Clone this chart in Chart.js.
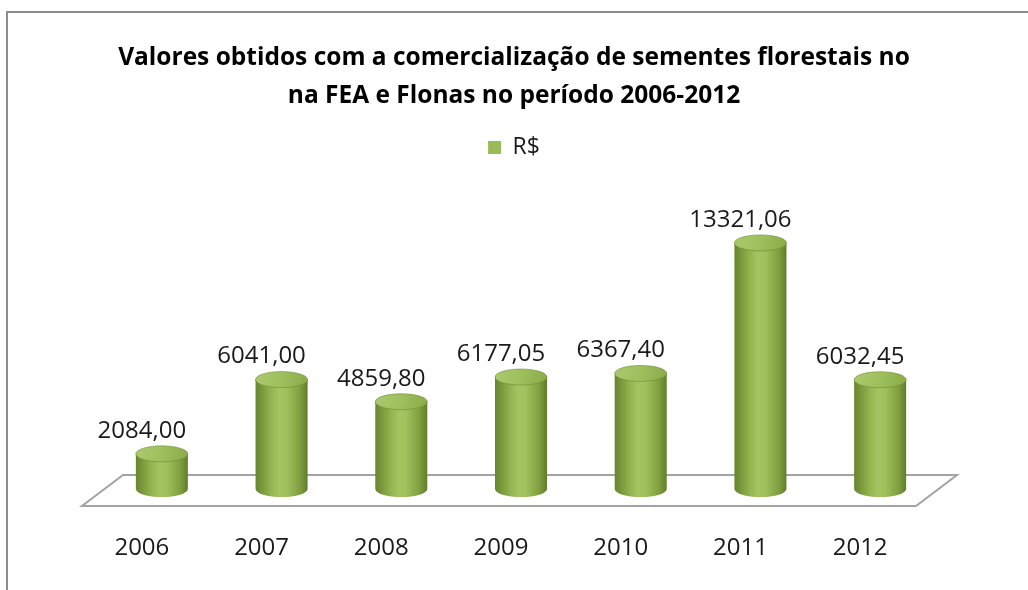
<!DOCTYPE html>
<html>
<head>
<meta charset="utf-8">
<script src="https://cdn.jsdelivr.net/npm/chart.js@4"></script>
<style>
  html, body { margin: 0; padding: 0; background: #ffffff; overflow: hidden; }
  #wrap { position: relative; width: 1028px; height: 590px; }
  #frame { position: absolute; left: 6px; top: 11px; width: 1100px; height: 700px;
           border-top: 2px solid #8c8c8c; border-left: 2px solid #8c8c8c; }
  #c { position: absolute; left: 0; top: 0; }
</style>
</head>
<body>
<div id="wrap">
  <div id="frame"></div>
  <canvas id="c" width="1028" height="590"></canvas>
</div>
<script>
const titleLines = ['Valores obtidos com a comercialização de sementes florestais no',
                    'na FEA e Flonas no período 2006-2012'];
const categories = ['2006', '2007', '2008', '2009', '2010', '2011', '2012'];
const seriesName = 'R$';
const values = [2084.00, 6041.00, 4859.80, 6177.05, 6367.40, 13321.06, 6032.45];
const yMax = 17950;

const FONT = "'Open Sans', 'DejaVu Sans', sans-serif";

function fmt(v) { return v.toFixed(2).replace('.', ','); }

const cylinderPlugin = {
  id: 'cylinders',
  beforeDatasetsDraw(chart) {
    const ctx = chart.ctx;
    const area = chart.chartArea;
    const depthX = 41, depthY = 31;   // floor depth (3D)
    const midX = 20, midY = 13;       // series plane offset
    // floor
    ctx.save();
    ctx.beginPath();
    ctx.moveTo(area.left, area.bottom);
    ctx.lineTo(area.right - 4, area.bottom);
    ctx.lineTo(area.right - 4 + depthX, area.bottom - depthY);
    ctx.lineTo(area.left + depthX, area.bottom - depthY);
    ctx.closePath();
    ctx.strokeStyle = '#a3a3a3';
    ctx.lineWidth = 2;
    ctx.stroke();
    ctx.restore();

    const meta = chart.getDatasetMeta(0);
    meta.data.forEach((bar, i) => {
      const rx = bar.width / 2;
      const ry = 8;
      const cx = bar.x + midX;
      const top = bar.y - midY;
      const bottom = bar.base - midY - 4;
      ctx.save();
      const g = ctx.createLinearGradient(cx - rx, 0, cx + rx, 0);
      g.addColorStop(0, '#67852e');
      g.addColorStop(0.3, '#93b44f');
      g.addColorStop(0.45, '#a4c461');
      g.addColorStop(0.6, '#9fc05c');
      g.addColorStop(0.85, '#809f40');
      g.addColorStop(1, '#617d2a');
      ctx.beginPath();
      ctx.moveTo(cx - rx, top);
      ctx.lineTo(cx - rx, bottom);
      ctx.ellipse(cx, bottom, rx, ry, 0, Math.PI, 0, true);
      ctx.lineTo(cx + rx, top);
      ctx.closePath();
      ctx.fillStyle = g;
      ctx.fill();
      const gt = ctx.createLinearGradient(cx - rx, top - ry, cx + rx, top + ry);
      gt.addColorStop(0, '#abc96e');
      gt.addColorStop(0.5, '#9fbf5e');
      gt.addColorStop(1, '#88a946');
      ctx.beginPath();
      ctx.ellipse(cx, top, rx, ry, 0, 0, Math.PI * 2);
      ctx.fillStyle = gt;
      ctx.fill();
      ctx.strokeStyle = 'rgba(110,140,50,0.6)';
      ctx.lineWidth = 1;
      ctx.stroke();
      // data label
      ctx.fillStyle = '#1a1a1a';
      ctx.font = '24px ' + FONT;
      ctx.textAlign = 'center';
      ctx.textBaseline = 'middle';
      ctx.fillText(fmt(values[i]), bar.x, top - 23);
      ctx.restore();
    });
    return false;
  }
};

new Chart(document.getElementById('c'), {
  type: 'bar',
  data: {
    labels: categories,
    datasets: [{
      label: seriesName,
      data: values,
      backgroundColor: '#9BBB59',
      borderWidth: 0,
      categoryPercentage: 1,
      barPercentage: 0.4345
    }]
  },
  options: {
    responsive: false,
    animation: false,
    devicePixelRatio: 1,
    layout: { padding: 0 },
    plugins: {
      title: {
        display: true,
        text: titleLines,
        color: '#000000',
        font: { family: FONT, size: 24.5, weight: 'bold', lineHeight: 1.551 },
        padding: { top: 39, bottom: 11 }
      },
      legend: {
        display: true,
        position: 'top',
        labels: {
          color: '#1a1a1a',
          font: { family: FONT, size: 23 },
          boxWidth: 13,
          boxHeight: 13,
          padding: 10
        }
      },
      tooltip: { enabled: false }
    },
    scales: {
      x: {
        grid: { display: false, drawTicks: false },
        border: { display: false },
        ticks: { color: '#1a1a1a', font: { family: FONT, size: 24 }, padding: 28 },
        afterFit(scale) { scale.height = 84; }
      },
      y: {
        position: 'left',
        min: 0,
        max: yMax,
        grid: { display: false, drawTicks: false },
        border: { display: false },
        ticks: { display: false },
        afterFit(scale) { scale.width = 82; }
      },
      y2: {
        position: 'right',
        min: 0,
        max: yMax,
        grid: { display: false, drawTicks: false },
        border: { display: false },
        ticks: { display: false },
        afterFit(scale) { scale.width = 108; }
      }
    }
  },
  plugins: [cylinderPlugin]
});
</script>
</body>
</html>
